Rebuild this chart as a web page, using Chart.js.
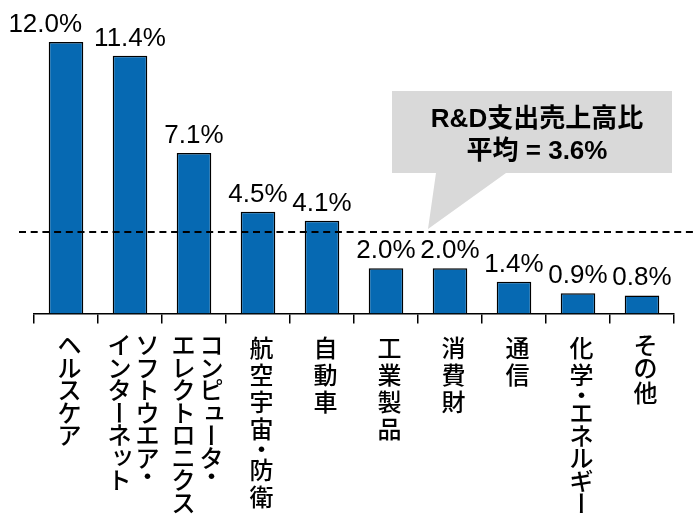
<!DOCTYPE html>
<html>
<head>
<meta charset="utf-8">
<script src="https://cdn.jsdelivr.net/npm/chart.js@4.4.0/dist/chart.umd.min.js"></script>
<style>
  html, body { margin: 0; padding: 0; background: #fff; }
</style>
</head>
<body>
<canvas id="myChart" width="694" height="517"></canvas>
<script>
'use strict';

// each entry = columns of vertical text, first column is drawn on the right
let categories = [
    ['ヘルスケア'],
    ['ソフトウエア・', 'インターネット'],
    ['コンピュータ・', 'エレクトロニクス'],
    ['航空宇宙・防衛'],
    ['自動車'],
    ['工業製品'],
    ['消費財'],
    ['通信'],
    ['化学・エネルギー'],
    ['その他']
];
let rdRatio = [12.0, 11.4, 7.1, 4.5, 4.1, 2.0, 2.0, 1.4, 0.9, 0.8];
let average = 3.6;
let calloutTitle = 'R&D支出売上高比';
let calloutAvg = '平均 = ' + average.toFixed(1) + '%';

const smallKana = 'ッュャョァィゥェォ';

// vertical advance for one character (kanji are taller than kana)
function advance(ch) {
    if (/[\u4e00-\u9fff]/.test(ch)) return 27;
    if (ch === '・') return 14;
    return 22.5;
}

const labelPlugin = {
    id: 'labelPlugin',
    afterDatasetsDraw(chart) {
        let ctx = chart.ctx;
        let xs = chart.scales.x;
        let ys = chart.scales.y;
        let meta = chart.getDatasetMeta(0);

        // value labels
        ctx.save();
        ctx.font = '26px "Liberation Sans", Arial, sans-serif';
        ctx.fillStyle = '#000';
        ctx.textAlign = 'center';
        ctx.textBaseline = 'alphabetic';
        let boxes = meta.data.map((bar, i) => {
            let t = rdRatio[i].toFixed(1) + '%';
            return { t: t, x: bar.x, y: bar.y - 10, w: ctx.measureText(t).width };
        });
        // push a label left when it clearly runs into its neighbour
        for (let i = boxes.length - 2; i >= 0; i--) {
            let right = boxes[i].x + boxes[i].w / 2;
            let nextLeft = boxes[i + 1].x - boxes[i + 1].w / 2;
            if (right - nextLeft > 5) {
                boxes[i].x = nextLeft - 12 - boxes[i].w / 2;
            }
        }
        boxes.forEach(b => ctx.fillText(b.t, b.x, b.y));
        ctx.restore();

        // average line
        let yAvg = ys.getPixelForValue(average);
        ctx.save();
        ctx.setLineDash([7, 4.7]);
        ctx.lineWidth = 2;
        ctx.strokeStyle = '#000';
        ctx.beginPath();
        ctx.moveTo(xs.left - 15, yAvg);
        ctx.lineTo(chart.width, yAvg);
        ctx.stroke();
        ctx.restore();

        // callout
        let tipX = (xs.getPixelForValue(5) + xs.getPixelForValue(6)) / 2 + 10;
        let tipY = yAvg - 3;
        ctx.save();
        ctx.fillStyle = '#d9d9d9';
        ctx.beginPath();
        ctx.moveTo(tipX - 36, tipY - 138);
        ctx.lineTo(tipX + 244, tipY - 138);
        ctx.lineTo(tipX + 244, tipY - 56);
        ctx.lineTo(tipX + 78, tipY - 56);
        ctx.lineTo(tipX, tipY);
        ctx.lineTo(tipX + 8, tipY - 56);
        ctx.lineTo(tipX - 36, tipY - 56);
        ctx.closePath();
        ctx.fill();
        ctx.fillStyle = '#000';
        ctx.font = 'bold 26px "Liberation Sans", "Noto Sans CJK JP", sans-serif';
        ctx.textAlign = 'center';
        ctx.textBaseline = 'alphabetic';
        ctx.fillText(calloutTitle, tipX + 109, tipY - 102);
        ctx.fillText(calloutAvg, tipX + 109, tipY - 70);
        ctx.restore();

        // vertical category labels
        ctx.save();
        ctx.font = '500 24px "Noto Sans CJK JP", sans-serif';
        ctx.fillStyle = '#000';
        ctx.textAlign = 'center';
        ctx.textBaseline = 'middle';
        categories.forEach((cols, i) => {
            let cx = xs.getPixelForValue(i) + 3.5;
            cols.forEach((col, j) => {
                let colX = cols.length === 1 ? cx : cx + 14 - 28 * j;
                let top = xs.bottom + 10.5;
                [...col].forEach(ch => {
                    let h = advance(ch);
                    let cy = top + h / 2;
                    if (ch === 'ー') {
                        ctx.save();
                        ctx.translate(colX, cy);
                        ctx.rotate(Math.PI / 2);
                        ctx.fillText(ch, 0, 0);
                        ctx.restore();
                    } else if (smallKana.includes(ch)) {
                        ctx.fillText(ch, colX + 3, cy - 3);
                    } else {
                        ctx.fillText(ch, colX, cy);
                    }
                    top += h;
                });
            });
        });
        ctx.restore();
    }
};

let ctx = document.getElementById('myChart').getContext('2d');

let myChart = new Chart(ctx, {
    type: 'bar',
    data: {
        labels: categories.map(c => c.join('')),
        datasets: [{
            data: rdRatio,
            backgroundColor: '#0669b2',
            borderColor: '#000',
            borderWidth: 1.5,
            barPercentage: 0.54,
            categoryPercentage: 1
        }]
    },
    options: {
        responsive: false,
        animation: false,
        devicePixelRatio: 1,
        layout: {
            padding: { left: 34, right: 20, top: 19.5, bottom: 193.5 }
        },
        plugins: {
            legend: { display: false },
            tooltip: { enabled: false }
        },
        scales: {
            x: {
                grid: {
                    display: true,
                    drawOnChartArea: false,
                    drawTicks: true,
                    tickLength: 10,
                    color: '#000',
                    lineWidth: 1.5,
                    offset: true
                },
                border: { display: true, color: '#000', width: 1.5 },
                ticks: { display: false }
            },
            y: {
                display: false,
                min: 0,
                max: 13
            }
        }
    },
    plugins: [labelPlugin]
});
</script>
</body>
</html>
